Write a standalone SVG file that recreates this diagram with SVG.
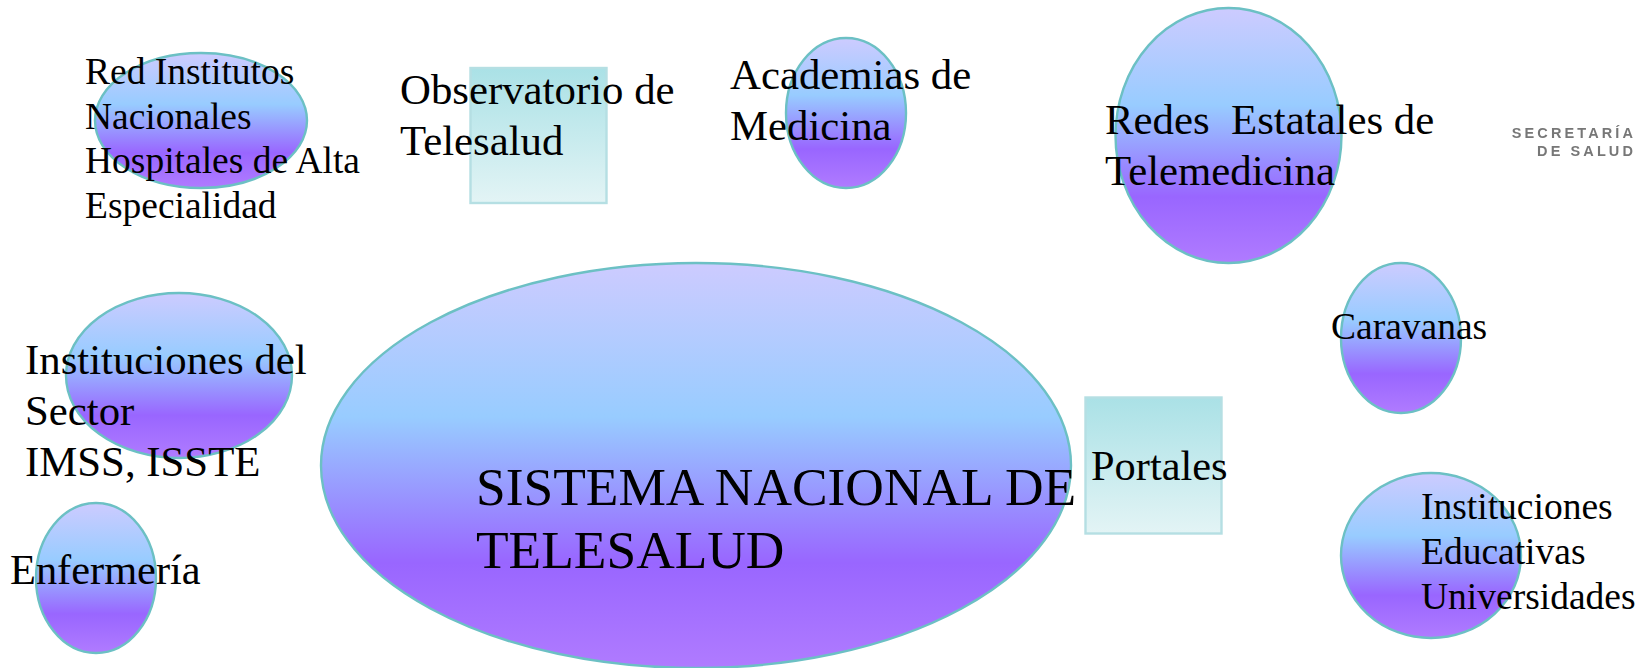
<svg xmlns="http://www.w3.org/2000/svg" width="1645" height="668" viewBox="0 0 1645 668">
<style>
.e{fill:url(#g1);stroke:#6cc0c4;stroke-width:2.4}
.r{fill:url(#g2);stroke:#b5dfe3;stroke-width:2.4}
text{font-family:"Liberation Serif","Times New Roman",serif;fill:#000}
.s{font-size:37.5px}.m{font-size:42.8px}.n{font-size:42.4px}.l{font-size:53.4px}
.logo{font-family:"Liberation Sans",Arial,sans-serif;font-size:14.500px;font-weight:bold;fill:#777;letter-spacing:3.1px;text-anchor:end;filter:url(#soft)}
</style>
<defs>
<linearGradient id="g1" x1="0" y1="0" x2="0" y2="1">
<stop offset="0" stop-color="#cdcbff"/><stop offset=".38" stop-color="#98ccff"/><stop offset=".74" stop-color="#9966ff"/><stop offset="1" stop-color="#b07bff"/>
</linearGradient>
<linearGradient id="g2" x1="0" y1="0" x2="0" y2="1">
<stop offset="0" stop-color="#aae1e6"/><stop offset="1" stop-color="#e3f4f5"/>
</linearGradient>
<filter id="soft" x="-5%" y="-30%" width="110%" height="160%"><feGaussianBlur stdDeviation="0.5"/></filter>
</defs>
<g id="connectors"/>
<g id="n-red"><ellipse class="e" cx="201" cy="120.500" rx="106" ry="67.500"/><text class="s"><tspan x="85" y="84">Red Institutos</tspan><tspan x="85" y="129">Nacionales</tspan><tspan x="85" y="173">Hospitales de Alta</tspan><tspan x="85" y="218">Especialidad</tspan></text></g>
<g id="n-observatorio"><rect class="r" x="470.500" y="68" width="136" height="135"/><text class="m"><tspan x="400" y="104">Observatorio de</tspan><tspan x="400" y="155">Telesalud</tspan></text></g>
<g id="n-academias"><ellipse class="e" cx="846" cy="113" rx="60" ry="75"/><text class="m"><tspan x="730" y="89">Academias de</tspan><tspan x="730" y="140">Medicina</tspan></text></g>
<g id="n-redes"><ellipse class="e" cx="1228.500" cy="135.500" rx="113" ry="127.500"/><text class="m" xml:space="preserve"><tspan x="1105" y="134">Redes  Estatales de</tspan><tspan x="1105" y="185">Telemedicina</tspan></text></g>
<g id="n-logo"><text class="logo" x="1636" y="138">SECRETARÍA</text><text class="logo" x="1636" y="156">DE SALUD</text></g>
<g id="n-caravanas"><ellipse class="e" cx="1401" cy="338" rx="60" ry="75"/><text class="s" x="1331" y="339">Caravanas</text></g>
<g id="n-portales"><rect class="r" x="1085.500" y="397.500" width="136" height="136"/><text class="n" x="1091" y="480">Portales</text></g>
<g id="n-educativas"><ellipse class="e" cx="1431" cy="555.500" rx="90" ry="82.500"/><text class="s"><tspan x="1421" y="519">Instituciones</tspan><tspan x="1421" y="564">Educativas</tspan><tspan x="1421" y="609">Universidades</tspan></text></g>
<g id="n-sistema"><ellipse class="e" cx="696" cy="465.500" rx="375" ry="202.500"/><text class="l"><tspan x="476" y="505">SISTEMA NACIONAL DE</tspan><tspan x="476" y="568">TELESALUD</tspan></text></g>
<g id="n-sector"><ellipse class="e" cx="179" cy="375.500" rx="113" ry="82.500"/><text class="m"><tspan x="25" y="374">Instituciones del</tspan><tspan x="25" y="425">Sector</tspan><tspan x="25" y="476">IMSS, ISSTE</tspan></text></g>
<g id="n-enfermeria"><ellipse class="e" cx="96" cy="578" rx="60" ry="75"/><text class="n" x="10" y="584">Enfermería</text></g>
</svg>
